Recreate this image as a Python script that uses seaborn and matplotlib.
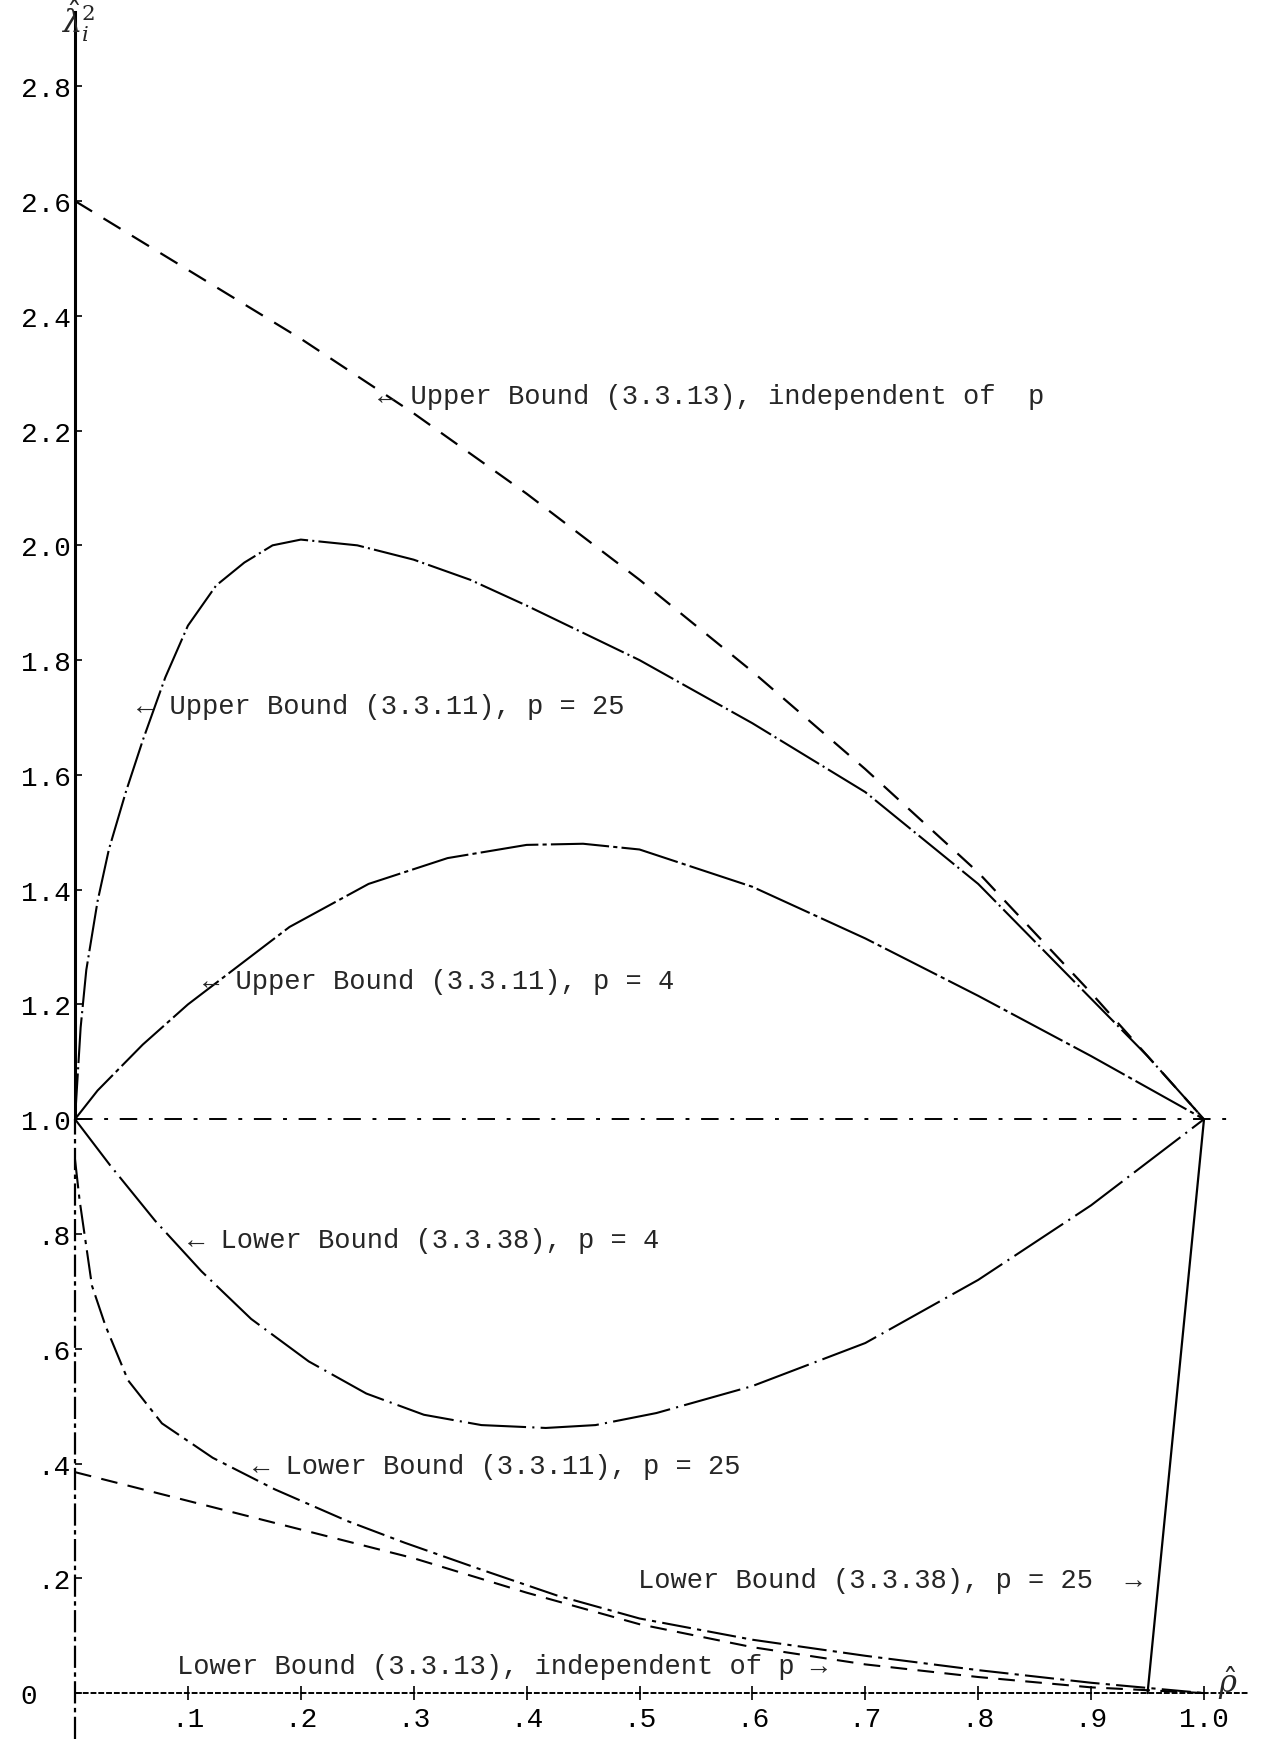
import matplotlib
matplotlib.use("Agg")
import matplotlib.pyplot as plt
import seaborn as sns

# values (rho-hat on x, lambda-hat^2_i on y)
ub13_rho = [0.0, 0.1, 0.2, 0.3, 0.4, 0.5, 0.6, 0.7, 0.8, 0.9, 1.0]
ub13_val = [2.6, 2.48, 2.36, 2.23, 2.09, 1.94, 1.78, 1.61, 1.43, 1.22, 1.0]

ub11_p25_rho = [0.0, 0.005, 0.01, 0.02, 0.03, 0.045, 0.06, 0.08, 0.1, 0.125, 0.15,
                0.175, 0.2, 0.25, 0.3, 0.35, 0.4, 0.5, 0.6, 0.7, 0.8, 0.9, 0.95, 1.0]
ub11_p25_val = [1.0, 1.16, 1.26, 1.38, 1.47, 1.57, 1.66, 1.77, 1.86, 1.93, 1.97,
                2.0, 2.01, 2.0, 1.975, 1.94, 1.895, 1.8, 1.69, 1.57, 1.41, 1.21, 1.11, 1.0]

ub11_p4_rho = [0.0, 0.02, 0.06, 0.1, 0.14, 0.19, 0.26, 0.33, 0.4, 0.45, 0.5,
               0.6, 0.7, 0.8, 0.9, 1.0]
ub11_p4_val = [1.0, 1.05, 1.13, 1.2, 1.26, 1.335, 1.41, 1.455, 1.478, 1.48, 1.47,
               1.405, 1.315, 1.215, 1.11, 1.0]

lb38_p4_rho = [0.0, 0.031, 0.071, 0.112, 0.156, 0.207, 0.258, 0.309, 0.36, 0.417,
               0.461, 0.515, 0.6, 0.7, 0.8, 0.9, 1.0]
lb38_p4_val = [1.0, 0.92, 0.823, 0.735, 0.652, 0.578, 0.522, 0.485, 0.467, 0.462,
               0.467, 0.488, 0.535, 0.61, 0.72, 0.85, 1.0]

lb11_p25_rho = [0.0, 0.004, 0.015, 0.027, 0.047, 0.077, 0.122, 0.177, 0.241,
                0.292, 0.36, 0.427, 0.5, 0.6, 0.7, 0.8, 0.9, 1.0]
lb11_p25_val = [0.93, 0.86, 0.71, 0.64, 0.545, 0.47, 0.41, 0.355, 0.30,
                0.262, 0.215, 0.17, 0.13, 0.093, 0.065, 0.04, 0.018, 0.0]

lb13_rho = [0.0, 0.1, 0.2, 0.3, 0.4, 0.5, 0.6, 0.7, 0.8, 0.9, 1.0]
lb13_val = [0.385, 0.335, 0.285, 0.235, 0.175, 0.12, 0.08, 0.05, 0.028, 0.01, 0.0]

lb38_p25_rho = [0.95, 1.0]
lb38_p25_val = [0.0, 1.0]

y_ticks = [0.0, 0.2, 0.4, 0.6, 0.8, 1.0, 1.2, 1.4, 1.6, 1.8, 2.0, 2.2, 2.4, 2.6, 2.8]
y_ticklabels = ["0  ", ".2", ".4", ".6", ".8", "1.0", "1.2", "1.4", "1.6", "1.8",
                "2.0", "2.2", "2.4", "2.6", "2.8"]
x_ticks = [0.1, 0.2, 0.3, 0.4, 0.5, 0.6, 0.7, 0.8, 0.9, 1.0]
x_ticklabels = [".1", ".2", ".3", ".4", ".5", ".6", ".7", ".8", ".9", "1.0"]

sns.set_theme(style="white")
plt.rcParams["font.family"] = ["Liberation Mono", "DejaVu Sans Mono"]
plt.rcParams["mathtext.fontset"] = "dejavuserif"

fig = plt.figure(figsize=(12.67, 17.40), dpi=100)
ax = fig.add_axes([75 / 1267, 0, 1192 / 1267, 1])
ax.set_xlim(0, 1.0558)
ax.set_ylim(-0.080, 2.952)

def curve(x, y, ls, lw=1.5):
    sns.lineplot(x=x, y=y, ax=ax, color="black", linewidth=lw, linestyle=ls,
                 sort=False, estimator=None, clip_on=False)

curve(ub13_rho, ub13_val, (0, (9, 6)), 1.6)
curve(ub11_p25_rho, ub11_p25_val, (0, (22, 2, 1, 2)))
curve(ub11_p4_rho, ub11_p4_val, (0, (28, 2, 2, 2)))
curve(lb38_p4_rho, lb38_p4_val, (0, (28, 3, 1, 3)))
curve(lb11_p25_rho, lb11_p25_val, (0, (14, 3, 2, 3)))
curve(lb13_rho, lb13_val, (0, (8, 5)), 1.5)
curve(lb38_p25_rho, lb38_p25_val, "-", 1.6)

# reference line at 1.0 and the dotted rho axis
ax.axhline(1.0, xmin=0, xmax=1.026 / 1.0558, color="black", lw=1.4,
           ls=(0, (9, 6, 2, 6)), clip_on=False)
ax.axhline(0.0, xmin=0, xmax=1.04 / 1.0558, color="black", lw=1.4,
           ls=(0, (3, 1)), clip_on=False)

# y axis: solid above 1.0, broken below
for side in ["top", "right"]:
    ax.spines[side].set_visible(False)
ax.spines["bottom"].set_position(("data", 0))
ax.spines["bottom"].set_color("none")
ax.spines["left"].set_bounds(1.0, 2.93)
ax.spines["left"].set_color("black")
ax.spines["left"].set_linewidth(2.2)
ax.axvline(0, ymin=0, ymax=(1.0 + 0.08) / 3.032, color="black", lw=1.6,
           ls=(0, (10, 2, 2, 2)), clip_on=False)

ax.set_yticks(y_ticks)
ax.set_yticklabels(y_ticklabels)
ax.set_xticks(x_ticks)
ax.set_xticklabels(x_ticklabels)
ax.tick_params(axis="y", direction="in", length=5, width=1.2, pad=3,
               labelsize=20, colors="black", left=True)
ax.tick_params(axis="x", direction="inout", length=10, width=1.2, pad=4,
               labelsize=20, colors="black", bottom=True)
ax.grid(False)

ax.text(-0.012, 2.915, r"$\hat{\lambda}^2_i$", fontsize=22, ha="left", va="center")
ax.text(1.012, 0.02, r"$\hat{\rho}$", fontsize=22, ha="left", va="center")

fs = 19.5
ax.text(0.268, 2.26, "\u2190 Upper Bound (3.3.13), independent of  p", fontsize=fs, va="center")
ax.text(0.055, 1.72, "\u2190 Upper Bound (3.3.11), p = 25", fontsize=fs, va="center")
ax.text(0.113, 1.24, "\u2190 Upper Bound (3.3.11), p = 4", fontsize=fs, va="center")
ax.text(0.100, 0.79, "\u2190 Lower Bound (3.3.38), p = 4", fontsize=fs, va="center")
ax.text(0.158, 0.395, "\u2190 Lower Bound (3.3.11), p = 25", fontsize=fs, va="center")
ax.text(0.945, 0.197, "Lower Bound (3.3.38), p = 25  \u2192", fontsize=fs, va="center", ha="right")
ax.text(0.090, 0.047, "Lower Bound (3.3.13), independent of p \u2192", fontsize=fs, va="center")

fig.savefig("out.png", dpi=100)
